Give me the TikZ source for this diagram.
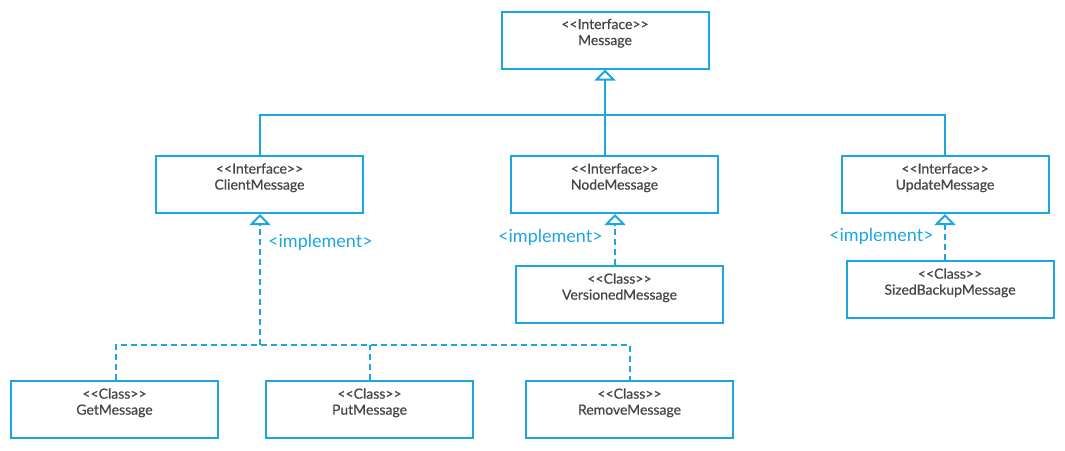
\documentclass[tikz,border=0pt]{standalone}
\usepackage{fontspec}
\setmainfont{Lato}
\newfontfamily\boxfont{Lato}[FakeBold=0.6]
\usetikzlibrary{arrows.meta}
\definecolor{umlblue}{RGB}{27,166,226}
\definecolor{umltext}{RGB}{70,70,70}
\newcommand{\stereo}[1]{<\kern0pt<#1>\kern0pt>}
\tikzset{
  uml box/.style={
    draw=umlblue,
    line width=2pt,
    minimum width=207pt,
    minimum height=57pt,
    align=center,
    text=umltext,
    font=\boxfont\fontsize{14}{16}\selectfont,
    text depth=16pt,
  },
  uml line/.style={draw=umlblue, line width=2pt},
  impl line/.style={uml line, dash pattern=on 6pt off 4pt},
  gen tip/.style={-{Triangle[open, width=21pt, length=11pt, line width=2pt, fill=white]}},
  impl label/.style={text=umlblue, font=\fontsize{18}{20}\selectfont, anchor=west, inner sep=0pt},
}

\begin{document}
\begin{tikzpicture}[x=1pt, y=-1pt]
        \useasboundingbox (0,0) rectangle (1065,450);

        \node[uml box] (message)    at (605,40)      {\stereo{Interface}\\Message};
        \node[uml box] (clientmsg)  at (259.5,184.5) {\stereo{Interface}\\ClientMessage};
        \node[uml box] (nodemsg)    at (614.5,184.5) {\stereo{Interface}\\NodeMessage};
        \node[uml box] (updatemsg)  at (945,184.5)   {\stereo{Interface}\\UpdateMessage};
        \node[uml box] (versionmsg) at (619.5,294.5) {\stereo{Class}\\VersionedMessage};
        \node[uml box] (sizedmsg)   at (950,289.5)   {\stereo{Class}\\SizedBackupMessage};
        \node[uml box] (getmsg)     at (114.5,409.5) {\stereo{Class}\\GetMessage};
        \node[uml box] (putmsg)     at (369.5,409.5) {\stereo{Class}\\PutMessage};
        \node[uml box] (removemsg)  at (629.5,409.5) {\stereo{Class}\\RemoveMessage};

        \coordinate (genhub)  at (605,115);
        \coordinate (implhub) at (260,345);

        % interfaces extend Message
        \draw[uml line, gen tip] (genhub |- nodemsg.north) -- (message.south);
        \draw[uml line] (clientmsg.north -| 260,0) |- (genhub) -| (updatemsg.north);

        % classes implement ClientMessage
        \draw[impl line] (getmsg.north -| 116,0) |- (implhub) -| (removemsg.north -| 630,0);
        \draw[impl line] (putmsg.north -| 370,0) -- (370,345);
        \draw[impl line, gen tip] (implhub) -- (clientmsg.south -| implhub);
        \node[impl label] (implclient) at (268,242) {<implement>};

        \draw[impl line, gen tip] (versionmsg.north -| 615,0) -- (nodemsg.south -| 615,0);
        \node[impl label] (implnode) at (498,237) {<implement>};

        \draw[impl line, gen tip] (sizedmsg.north -| 945,0) -- (updatemsg.south);
        \node[impl label] (implupdate) at (829,236) {<implement>};
\end{tikzpicture}
\end{document}
